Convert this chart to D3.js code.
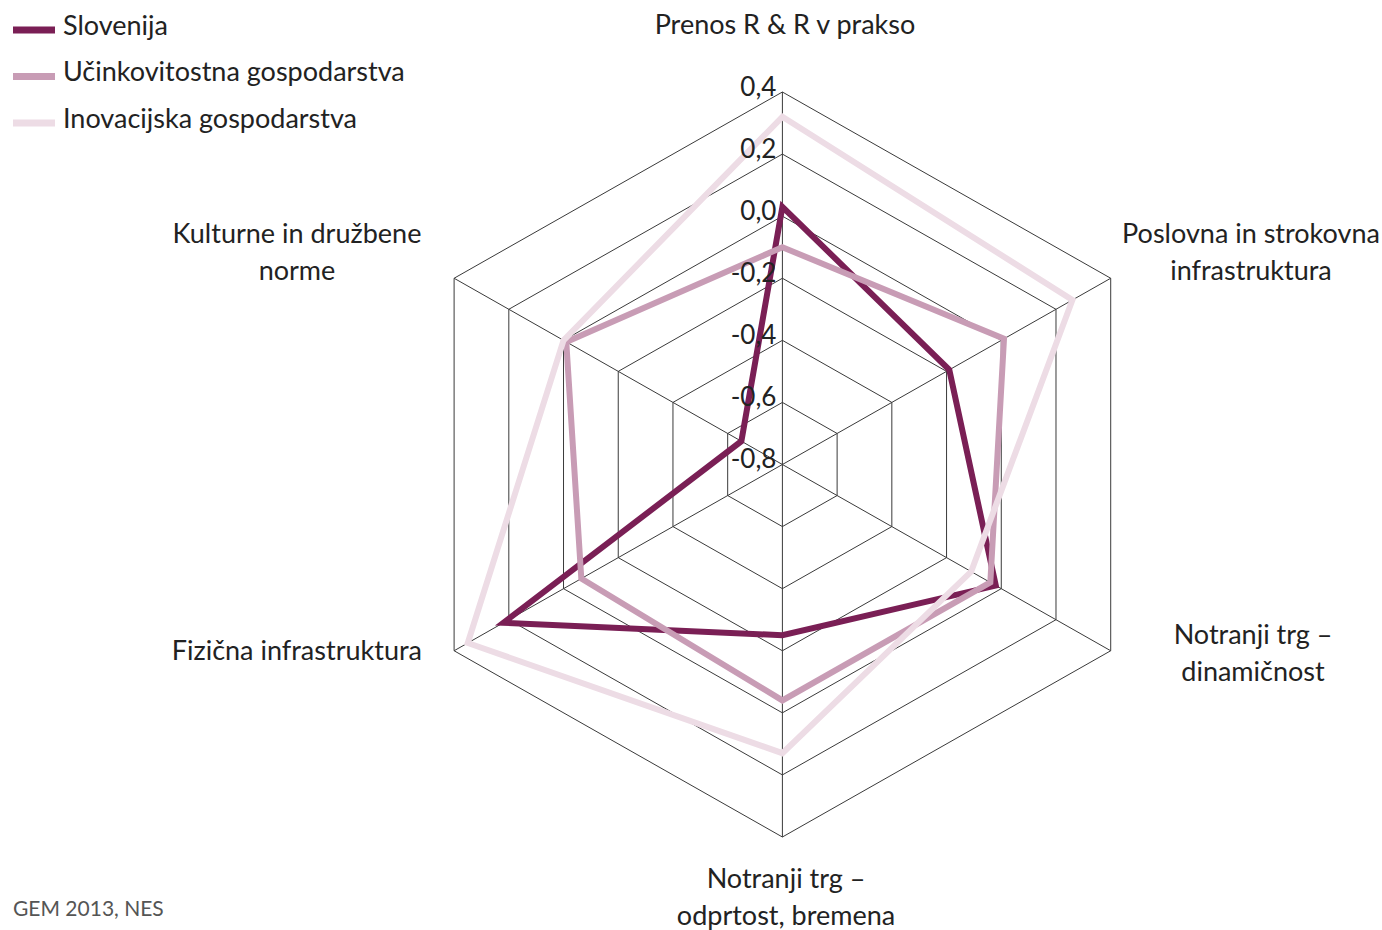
<!DOCTYPE html>
<html>
<head lang="sl">
  <meta charset="UTF-8">
  <title>Radar - GEM 2013</title>
  <script src="https://cdn.jsdelivr.net/npm/d3@7"></script>
  <style>
    body { margin: 0; background: #fff; }
    text { font-family: Lato, "Open Sans", sans-serif; fill: #222; }
  </style>
</head>
<body>
  <script type="text/javascript">
    // axes clockwise from the top
    var axes = [
      ['Prenos R & R v prakso'],
      ['Poslovna in strokovna', 'infrastruktura'],
      ['Notranji trg \u2013', 'dinami\u010dnost'],
      ['Notranji trg \u2013', 'odprtost, bremena'],
      ['Fizi\u010dna infrastruktura'],
      ['Kulturne in dru\u017ebene', 'norme']
    ];
    var seriesNames = ['Slovenija', 'U\u010dinkovitostna gospodarstva', 'Inovacijska gospodarstva'];
    var slovenija = [0.03, -0.19, -0.02, -0.25, 0.22, -0.65];
    var ucinkovitostna = [-0.10, 0.01, -0.04, -0.04, -0.065, -0.01];
    var inovacijska = [0.32, 0.26, -0.11, 0.13, 0.35, 0.0];
    var ticks = [-0.8, -0.6, -0.4, -0.2, 0.0, 0.2, 0.4];
    var colors = ['#7a1f55', '#c89cb5', '#eddce5'];

    var W = 1382, H = 930;
    var cx = 782.4, cy = 464.5, R = 372.5, sx = 1.0177;

    var svg = d3.select('body').append('svg')
        .attr('width', W)
        .attr('height', H);

    var r = d3.scaleLinear().domain([-0.8, 0.4]).range([0, R]);

    function pt(i, v) {
      var a = i * Math.PI / 3;
      var d = r(v);
      return [cx + sx * d * Math.sin(a), cy - d * Math.cos(a)];
    }

    // grid rings
    var line = d3.line();
    svg.append('g').selectAll('path')
        .data(ticks.slice(1))
        .enter().append('path')
        .attr('d', function (t) {
          return line(axes.map(function (a, i) { return pt(i, t); })) + 'Z';
        })
        .attr('fill', 'none')
        .attr('stroke', '#3a3a3a')
        .attr('stroke-width', 1);

    // spokes
    svg.append('g').selectAll('line')
        .data(axes)
        .enter().append('line')
        .attr('x1', cx).attr('y1', cy)
        .attr('x2', function (a, i) { return pt(i, 0.4)[0]; })
        .attr('y2', function (a, i) { return pt(i, 0.4)[1]; })
        .attr('stroke', '#3a3a3a')
        .attr('stroke-width', 1);

    // series
    var allSeries = [slovenija, ucinkovitostna, inovacijska];
    svg.append('g').selectAll('path')
        .data(allSeries)
        .enter().append('path')
        .attr('d', function (s) {
          return line(s.map(function (v, i) { return pt(i, v); })) + 'Z';
        })
        .attr('fill', 'none')
        .attr('stroke', function (s, i) { return colors[i]; })
        .attr('stroke-width', 6)
        .attr('stroke-linejoin', 'miter');

    // tick labels
    svg.append('g').selectAll('text')
        .data(ticks)
        .enter().append('text')
        .attr('x', cx - 6)
        .attr('y', function (t) { return pt(0, t)[1] - 3; })
        .attr('text-anchor', 'end')
        .attr('dominant-baseline', 'middle')
        .style('font-size', '26px')
        .text(function (t) { return d3.format('.1f')(t).replace('.', ',').replace('\u2212', '-'); });

    // axis labels
    var labelPos = [
      {x: 785, y: 27, anchor: 'middle'},
      {x: 1251, y: 236, anchor: 'middle'},
      {x: 1253, y: 637, anchor: 'middle'},
      {x: 786, y: 881, anchor: 'middle'},
      {x: 422, y: 653, anchor: 'end'},
      {x: 297, y: 236, anchor: 'middle'}
    ];
    axes.forEach(function (a, i) {
      var p = labelPos[i];
      var t = svg.append('text')
          .attr('x', p.x)
          .attr('y', p.y)
          .attr('text-anchor', p.anchor)
          .attr('dominant-baseline', 'middle')
          .style('font-size', '27px');
      a.forEach(function (s, j) {
        t.append('tspan')
            .attr('x', p.x)
            .attr('dy', j === 0 ? 0 : 37)
            .text(s);
      });
    });

    // legend
    var legend = svg.append('g').selectAll('g')
        .data(seriesNames)
        .enter().append('g')
        .attr('transform', function (d, i) { return 'translate(13,' + (30 + i * 46.5) + ')'; });
    legend.append('line')
        .attr('x1', 0).attr('x2', 42)
        .attr('y1', 0).attr('y2', 0)
        .attr('stroke', function (d, i) { return colors[i]; })
        .attr('stroke-width', 7);
    legend.append('text')
        .attr('x', 50)
        .attr('y', -2)
        .attr('dominant-baseline', 'middle')
        .style('font-size', '27px')
        .text(function (d) { return d; });

    // source
    svg.append('text')
        .attr('x', 13)
        .attr('y', 911)
        .attr('dominant-baseline', 'middle')
        .style('font-size', '21px')
        .style('fill', '#555')
        .text('GEM 2013, NES');
  </script>
</body>
</html>
